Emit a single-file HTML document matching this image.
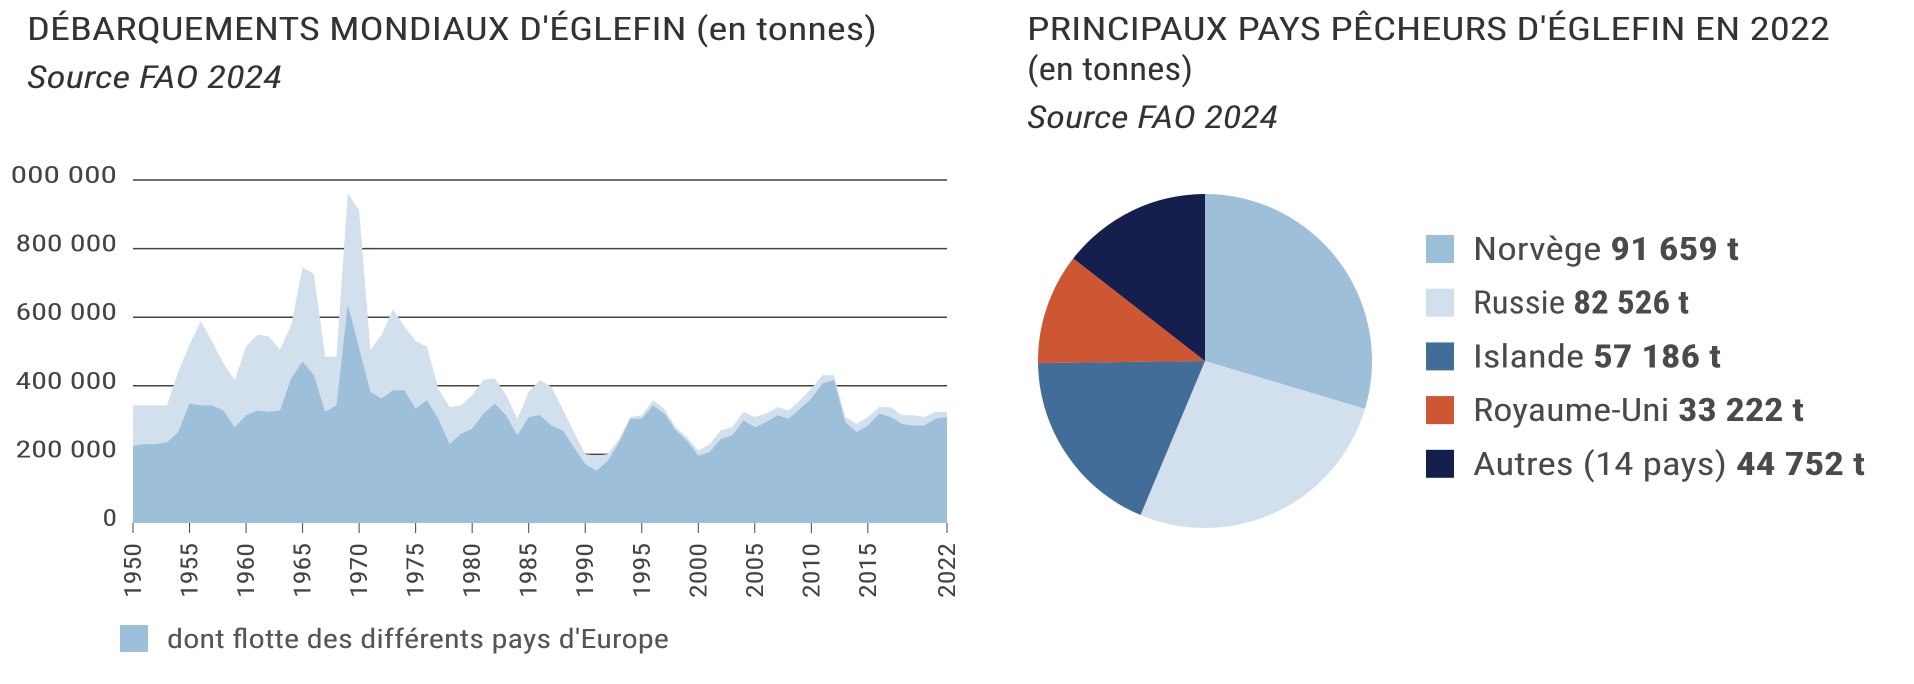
<!DOCTYPE html>
<html><head><meta charset="utf-8"><style>
html,body{margin:0;padding:0;background:#fff}
svg{display:block;font-family:"Roboto Condensed","Liberation Sans",sans-serif}
</style></head><body>
<svg width="1914" height="684" viewBox="0 0 1914 684" xmlns="http://www.w3.org/2000/svg">
<g id="left">
<text x="27" y="40" font-size="32" fill="#333" textLength="850" lengthAdjust="spacingAndGlyphs">DÉBARQUEMENTS MONDIAUX D'ÉGLEFIN (en tonnes)</text>
<text x="27" y="88" font-size="31" font-style="italic" fill="#333" textLength="255" lengthAdjust="spacingAndGlyphs">Source FAO 2024</text>
<g id="grid"></g><g id="areas"></g><g id="yt"></g><g id="xt"></g>
<rect x="120" y="625" width="28" height="27" fill="#9dbfda"/>
<text x="167" y="648" font-size="27" fill="#555" textLength="502" lengthAdjust="spacingAndGlyphs">dont flotte des différents pays d'Europe</text>
</g>
<g id="right">
<text x="1027" y="40" font-size="32" fill="#333" textLength="803" lengthAdjust="spacingAndGlyphs">PRINCIPAUX PAYS PÊCHEURS D'ÉGLEFIN EN 2022</text>
<text x="1027" y="80" font-size="32" fill="#333" textLength="166" lengthAdjust="spacingAndGlyphs">(en tonnes)</text>
<text x="1027" y="128" font-size="31" font-style="italic" fill="#333" textLength="251" lengthAdjust="spacingAndGlyphs">Source FAO 2024</text>
<g id="pie"></g><g id="leg"></g>
</g>
</svg>
<script>
const years=[];for(let y=1950;y<=2022;y++)years.push(y);
const totalValues=[343,343,343,343,441,520,588,530,466,417,515,549,544,505,578,745,726,485,485,961,912,505,549,623,574,530,515,392,338,343,373,417,422,373,304,382,417,397,333,265,201,196,201,245,309,314,358,333,279,250,211,230,270,279,324,309,319,338,328,358,392,431,431,309,289,309,338,338,314,314,309,324,324].map(v=>v*1000);
const europeValues=[225,230,230,235,265,348,343,343,328,279,314,328,324,328,422,471,431,324,343,637,510,382,363,387,387,333,358,304,230,260,275,319,348,314,255,309,314,284,270,221,172,152,181,235,304,304,343,319,270,240,196,206,245,255,299,279,294,314,304,333,363,407,417,294,265,284,319,309,289,284,284,304,309].map(v=>v*1000);
const yTicks=[0,200000,400000,600000,800000,1000000];
const yTickLabels=["0","200 000","400 000","600 000","800 000","1 000 000"];
const xTickYears=[1950,1955,1960,1965,1970,1975,1980,1985,1990,1995,2000,2005,2010,2015,2022];
const countries=["Norvège","Russie","Islande","Royaume-Uni","Autres (14 pays)"];
const tonnages=[91659,82526,57186,33222,44752];
const tonnageLabels=["91 659 t","82 526 t","57 186 t","33 222 t","44 752 t"];
const NS="http://www.w3.org/2000/svg";
function mk(tag,attrs,parent){const e=document.createElementNS(NS,tag);for(const k in attrs)e.setAttribute(k,attrs[k]);parent.appendChild(e);return e;}
const X0=133,X1=947,Y0=523,Y1=180;
const xs=y=>X0+(y-1950)/(2022-1950)*(X1-X0);
const ys=v=>Y0-v/1000000*(Y0-Y1);
const grid=document.getElementById('grid'),yt=document.getElementById('yt'),xt=document.getElementById('xt'),areas=document.getElementById('areas');
yTicks.forEach((t,i)=>{
 if(t>0){const l=mk('line',{x1:X0,x2:X1,y1:ys(t),y2:ys(t),stroke:'#444','stroke-width':1.5},grid);
 
 }
 const tx=mk('text',{x:117,y:ys(t)+3,'font-size':24,fill:'#444','text-anchor':'end',textLength:yTickLabels[i].length*14.5,lengthAdjust:'spacingAndGlyphs'},yt);
 tx.textContent=yTickLabels[i];
 
 
});
function areaPath(vals){let d='M'+xs(years[0])+','+Y0;years.forEach((y,i)=>{d+=' L'+xs(y).toFixed(1)+','+ys(vals[i]).toFixed(1);});return d+' L'+xs(years[years.length-1])+','+Y0+' Z';}
const a1=mk('path',{d:areaPath(totalValues),fill:'#d2e0ed'},areas);


const a2=mk('path',{d:areaPath(europeValues),fill:'#9dbfda'},areas);


xTickYears.forEach(y=>{
 const x=xs(y);
 const l=mk('line',{x1:x,x2:x,y1:Y0,y2:Y0+10,stroke:'#444','stroke-width':1},xt);
 
 
 const t=mk('text',{x:0,y:0,'font-size':24,fill:'#444','text-anchor':'end',transform:`translate(${x+8},543) rotate(-90)`,textLength:55,lengthAdjust:'spacingAndGlyphs'},xt);
 t.textContent=y;
 
 
});
const colors=['#9dbfda','#d2e0ed','#426d98','#cd5733','#151f4e'];
const cx=1205,cy=361,r=167,total=tonnages.reduce((a,b)=>a+b,0);
const pie=document.getElementById('pie'),leg=document.getElementById('leg');
let ang=0;
tonnages.forEach((v,i)=>{
 const a0=ang,a1=ang+v/total*2*Math.PI;ang=a1;
 const p0=[cx+r*Math.sin(a0),cy-r*Math.cos(a0)],p1=[cx+r*Math.sin(a1),cy-r*Math.cos(a1)];
 const large=(a1-a0)>Math.PI?1:0;
 const s=mk('path',{d:`M${cx},${cy} L${p0[0]},${p0[1]} A${r},${r} 0 ${large} 1 ${p1[0]},${p1[1]} Z`,fill:colors[i]},pie);
 
 
 const yy=235+i*53.7;
 const sq=mk('rect',{x:1426,y:yy,width:28,height:28,fill:colors[i]},leg);
 
 
 const t=mk('text',{x:1473,y:yy+25,'font-size':32,fill:'#4a4a4a'},leg);
 
 
 const n=document.createElementNS(NS,'tspan');n.textContent=countries[i]+' ';t.appendChild(n);
 const b=document.createElementNS(NS,'tspan');b.setAttribute('font-weight','bold');b.textContent=tonnageLabels[i];t.appendChild(b);
 const full=[266,216,248,331,392][i];
 t.setAttribute('textLength',full);t.setAttribute('lengthAdjust','spacingAndGlyphs');
});
</script>
</body></html>
